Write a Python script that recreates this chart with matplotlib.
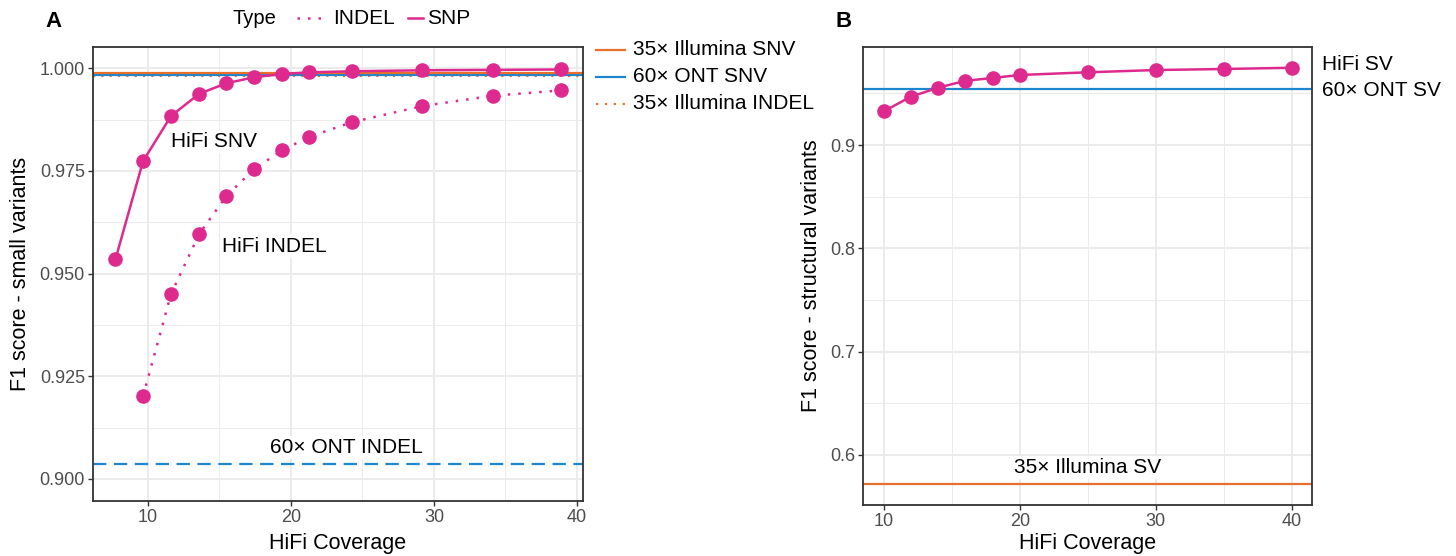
import matplotlib
matplotlib.use("Agg")
import matplotlib.pyplot as plt
from matplotlib.lines import Line2D
from matplotlib.ticker import MultipleLocator
import matplotlib.transforms as mtransforms

plt.rcParams['font.family'] = ['Liberation Sans', 'DejaVu Sans']

# ---------------- data ----------------
# Panel A: small variants
snp_cov = [7.74, 9.67, 11.63, 13.6, 15.5, 17.42, 19.37, 21.3, 24.3, 29.2, 34.1, 38.85]
snp_f1 = [0.9535, 0.9774, 0.9884, 0.9938, 0.99635, 0.9978, 0.9986, 0.9990, 0.99927, 0.9995, 0.9996, 0.9997]
indel_cov = [9.67, 11.63, 13.6, 15.5, 17.42, 19.37, 21.3, 24.3, 29.2, 34.1, 38.85]
indel_f1 = [0.9202, 0.9451, 0.9597, 0.9689, 0.9754, 0.9800, 0.9833, 0.9869, 0.9908, 0.9933, 0.9946]
illumina_snv = 0.99886
ont_snv = 0.99835
illumina_indel = 0.99815
ont_indel = 0.9036

# Panel B: structural variants
sv_cov = [10, 12, 14, 16, 18, 20, 25, 30, 35, 40]
sv_f1 = [0.9326, 0.9468, 0.9555, 0.9622, 0.9649, 0.9678, 0.9704, 0.9726, 0.9736, 0.9748]
ont_sv = 0.9545
illumina_sv = 0.5716

type_labels = ['INDEL', 'SNP']
ref_labels_A = ['35\u00d7 Illumina SNV', '60\u00d7 ONT SNV', '35\u00d7 Illumina INDEL']

# ---------------- style ----------------
PINK = '#DE2A8E'
ORANGE = '#E8702A'
BLUE = '#1C86CF'
GRID = '#EBEBEB'
TICKC = '#4D4D4D'
W, H = 1456, 556

fig = plt.figure(figsize=(W / 100, H / 100), dpi=100)


def fr(x0, y0, x1, y1):
    return [x0 / W, 1 - y1 / H, (x1 - x0) / W, (y1 - y0) / H]


axA = fig.add_axes(fr(93.3, 47.3, 582.7, 500.7))
axB = fig.add_axes(fr(863.3, 47.3, 1312.3, 505))


def style(ax):
    ax.set_facecolor('white')
    ax.grid(True, which='major', color=GRID, lw=1.4, zorder=0)
    ax.grid(True, which='minor', color=GRID, lw=0.7, zorder=0)
    ax.set_axisbelow(True)
    for s in ax.spines.values():
        s.set_color('#333333')
        s.set_linewidth(1.3)
    ax.tick_params(which='major', length=3.5, width=1.0, color='#333333',
                   labelsize=13, labelcolor=TICKC, pad=2.5)
    ax.tick_params(which='minor', length=0)


# ---------------- Panel A ----------------
ax = axA
style(ax)
ax.set_xlim(6.19, 40.4)
ax.set_ylim(0.8947, 1.0051)
ax.xaxis.set_major_locator(MultipleLocator(10))
ax.xaxis.set_minor_locator(MultipleLocator(5))
ax.yaxis.set_major_locator(MultipleLocator(0.025))
ax.yaxis.set_minor_locator(MultipleLocator(0.0125))
ax.yaxis.set_major_formatter(matplotlib.ticker.FormatStrFormatter('%.3f'))

ax.axhline(illumina_indel, color=ORANGE, lw=1.5, ls=(0, (1, 3)), zorder=2)
ax.axhline(ont_snv, color=BLUE, lw=1.6, zorder=2)
ax.axhline(illumina_snv, color=ORANGE, lw=1.6, zorder=2)
ax.axhline(ont_indel, color=BLUE, lw=1.6, ls=(0, (6, 3.4)), zorder=2)

ax.plot(indel_cov, indel_f1, color=PINK, lw=1.8, ls=(0, (1, 3.2)),
        marker='o', ms=9.5, zorder=4)
ax.plot(snp_cov, snp_f1, color=PINK, lw=1.8, marker='o', ms=9.5, zorder=4)

bb = dict(facecolor='white', edgecolor='none', pad=1.5)
ax.text(14.6, 0.9822, 'HiFi SNV', fontsize=15, ha='center', va='center', bbox=bb, zorder=3)
ax.text(18.85, 0.9567, 'HiFi INDEL', fontsize=15, ha='center', va='center', bbox=bb, zorder=3)
ax.text(23.9, 0.9077, '60\u00d7 ONT INDEL', fontsize=15, ha='center', va='center', bbox=bb, zorder=3)

ax.set_xlabel('HiFi Coverage', fontsize=15.5)
ax.xaxis.set_label_coords(0.5, -(533 - 500.7) / (500.7 - 47.3))
ax.set_ylabel('F1 score - small variants', fontsize=15.5, labelpad=6)

# ---------------- Panel B ----------------
ax = axB
style(ax)
ax.set_xlim(8.5, 41.5)
ax.set_ylim(0.5516, 0.9946)
ax.xaxis.set_major_locator(MultipleLocator(10))
ax.xaxis.set_minor_locator(MultipleLocator(5))
ax.yaxis.set_major_locator(MultipleLocator(0.1))
ax.yaxis.set_minor_locator(MultipleLocator(0.05))
ax.yaxis.set_major_formatter(matplotlib.ticker.FormatStrFormatter('%.1f'))

ax.axhline(ont_sv, color=BLUE, lw=1.6, zorder=2)
ax.axhline(illumina_sv, color=ORANGE, lw=1.6, zorder=2)
ax.plot(sv_cov, sv_f1, color=PINK, lw=1.8, marker='o', ms=9.5, zorder=4)
ax.text(25, 0.5882, '35\u00d7 Illumina SV', fontsize=15, ha='center', va='center', bbox=bb, zorder=3)

trB = mtransforms.blended_transform_factory(fig.transFigure, ax.transData)
fig.text(1322.5 / W, 0.9782, 'HiFi SV', fontsize=15, ha='left', va='center', transform=trB)
fig.text(1322.5 / W, 0.9525, '60\u00d7 ONT SV', fontsize=15, ha='left', va='center', transform=trB)

ax.set_xlabel('HiFi Coverage', fontsize=15.5)
ax.xaxis.set_label_coords(0.5, -(533 - 505) / (505 - 47.3))
ax.set_ylabel('F1 score - structural variants', fontsize=15.5, labelpad=6)

# ---------------- legends (manual) ----------------
def fy(y):
    return 1 - y / H


def fx(x):
    return x / W


# top "Type" legend
fig.text(fx(233), fy(18.3), 'Type', fontsize=14.5, ha='left', va='center')
fig.add_artist(Line2D([fx(297), fx(327)], [fy(18.3)] * 2, color=PINK, lw=1.8,
                      ls=(0, (1, 3.2)), transform=fig.transFigure))
fig.text(fx(332.7), fy(18.3), type_labels[0], fontsize=15, ha='left', va='center')
fig.add_artist(Line2D([fx(408.3), fx(422.7)], [fy(18.3)] * 2, color=PINK, lw=1.8,
                      transform=fig.transFigure))
fig.text(fx(426.7), fy(18.3), type_labels[1], fontsize=15, ha='left', va='center')

# right legend for panel A
ref_styles = [dict(color=ORANGE, ls='-'), dict(color=BLUE, ls='-'),
              dict(color=ORANGE, ls=(0, (1, 3)))]
for i, (lab, st) in enumerate(zip(ref_labels_A, ref_styles)):
    yy = 49.5 + i * 27
    fig.add_artist(Line2D([fx(596), fx(625)], [fy(yy)] * 2, lw=1.6,
                          transform=fig.transFigure, **st))
    fig.text(fx(633), fy(yy), lab, fontsize=15, ha='left', va='center')

# panel labels
fig.text(fx(45), fy(21.7), 'A', fontsize=16, fontweight='bold', ha='left', va='center')
fig.text(fx(836), fy(21.7), 'B', fontsize=16, fontweight='bold', ha='left', va='center')

fig.savefig('out.png', dpi=100, facecolor='white')
